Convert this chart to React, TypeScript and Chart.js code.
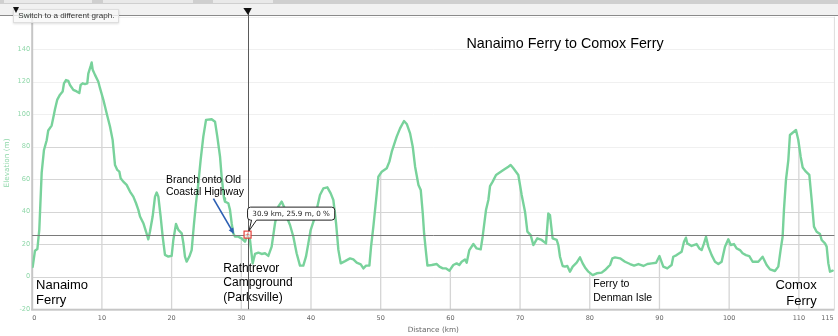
import { useEffect, useRef } from "react";
import { Chart, registerables } from "chart.js";

Chart.register(...registerables);

const distanceKm = [
  0.07, 0.4, 0.74, 1.02, 1.36, 1.69, 2.08, 2.3, 2.79, 3.03, 3.27, 3.6, 3.99, 4.37, 4.56, 4.85, 5.18, 5.42, 5.9, 6.38,
  6.76, 6.95, 7.24, 7.57, 7.9, 8.05, 8.39, 8.53, 8.68, 9.01, 9.49, 9.73, 10.2, 10.68, 11.16, 11.54, 11.88, 12.21, 12.5, 12.69,
  13.07, 13.55, 14.03, 14.51, 14.9, 15.23, 15.47, 15.95, 16.33, 16.66, 16.9, 17.28, 17.62, 17.86, 18.1, 18.43, 18.72, 19.05, 19.53, 20.01,
  20.25, 20.63, 20.97, 21.45, 21.69, 21.92, 22.16, 22.55, 22.88, 23.22, 23.5, 23.84, 24.17, 24.55, 24.94, 25.75, 26.23, 26.56, 26.95, 27.18,
  27.52, 27.66, 28.14, 28.38, 28.62, 28.85, 29.09, 29.57, 29.81, 30.05, 30.53, 30.9, 31.25, 31.63, 31.97, 32.45, 32.92, 33.4, 33.88, 34.36,
  34.84, 35.31, 35.79, 36.13, 36.51, 36.99, 37.47, 37.94, 38.42, 38.9, 39.28, 39.62, 39.95, 40.43, 40.81, 41.29, 41.77, 42.35, 42.83, 43.21,
  43.6, 43.93, 44.27, 44.89, 45.6, 46.08, 46.56, 47.14, 47.52, 47.9, 48.38, 48.62, 48.95, 49.34, 49.67, 50.15, 50.87, 51.25, 51.59, 52.06,
  52.3, 52.78, 53.35, 53.74, 54.22, 54.6, 54.94, 55.42, 55.75, 56.04, 56.23, 56.52, 56.71, 57.33, 58.05, 58.43, 58.91, 59.39, 59.87, 60.42,
  60.9, 61.28, 61.62, 62.1, 62.34, 62.72, 63.3, 63.77, 64.35, 64.63, 65.11, 65.45, 65.69, 66.07, 66.55, 67.6, 68.32, 68.65, 69.04, 69.75,
  70.23, 70.71, 71.05, 71.52, 71.9, 72.47, 73.1, 73.72, 74.05, 74.29, 74.67, 75.25, 75.49, 75.73, 76.11, 76.44, 76.78, 77.16, 77.55, 78.12,
  78.6, 78.98, 79.32, 79.8, 80.42, 81.0, 81.71, 82.19, 82.67, 82.91, 83.24, 83.62, 84.34, 85.06, 85.78, 86.36, 86.98, 87.7, 88.27, 88.9,
  89.52, 90.0, 90.55, 91.12, 91.74, 91.98, 92.46, 93.18, 93.52, 93.8, 93.99, 94.61, 95.33, 95.72, 96.05, 96.39, 96.68, 97.01, 97.49, 97.97,
  98.45, 98.92, 99.4, 99.88, 100.22, 100.69, 101.07, 101.55, 101.93, 102.41, 102.89, 103.37, 104.18, 104.8, 105.38, 105.86, 106.57, 107.05, 107.38, 107.67,
  107.86, 108.15, 108.49, 108.72, 109.11, 109.59, 109.92, 110.26, 110.55, 111.02, 111.5, 111.84, 112.17, 112.55, 113.03, 113.27, 113.75, 113.99, 114.23, 114.47,
  114.85,
];

const elevationM = [
  6, 16, 17, 29, 64, 78, 84, 90, 93, 98, 103, 109, 112, 114, 119, 121, 120.5, 118, 115, 114,
  113, 118, 119, 118.5, 119, 125, 129.7, 131.8, 127.3, 124.2, 120, 116, 109, 100.6, 92.4, 84.2, 68.8, 65.7, 64.7, 60.6,
  58.5, 56.5, 52.4, 49.3, 45.2, 41.1, 37, 32.9, 27.8, 23, 27.8, 37, 49.3, 51.8, 49.3, 37, 24.7, 13.4, 12.4, 12.8,
  22.6, 32.5, 28.8, 26.7, 20.6, 12.4, 9.3, 12.4, 16.4, 32.9, 45.2, 57.5, 71.9, 86.2, 96.5, 96.9, 95.4, 86.2, 73.9, 61.6,
  48.3, 46.2, 45.2, 41.1, 32.9, 26.7, 24.7, 24.7, 24, 23.6, 21.5, 25.9, 22.6, 8.2, 14, 14.8, 14, 14.4, 12.8, 18.5,
  32.9, 43.1, 46.2, 43.1, 36.9, 31.8, 24.6, 14.4, 6.8, 6.8, 12.3, 20.5, 28.7, 34.9, 41, 50.3, 54.3, 55, 51.3, 47.2,
  32.9, 16.5, 8.2, 9.6, 11.3, 10.6, 8.6, 7.6, 5.1, 6.8, 6.8, 18.5, 30.8, 47.2, 61.6, 64.6, 66.7, 70.8, 76.9, 83.1,
  86.2, 91.3, 95.8, 94, 88.2, 80, 67.7, 56.4, 53.3, 38.9, 26.6, 14.3, 6.8, 7.2, 7.8, 6.2, 5.1, 5.1, 3.7, 7.2,
  8.2, 7.2, 9.2, 10.6, 8.6, 16.4, 20.1, 17.4, 16.8, 24.6, 41, 47.2, 55.8, 58.5, 62.6, 65.6, 67.7, 68.8, 66.7, 62.6,
  50.3, 40, 27.7, 25.6, 19.5, 23.6, 22.6, 20.5, 38.9, 37.9, 23.6, 22.6, 19.5, 12.3, 6.6, 6.2, 6.6, 3.1, 6.2, 8.6,
  11.9, 8.2, 5.7, 3.1, 1, 2.1, 2.5, 4.1, 6.2, 7.2, 11.3, 11.9, 11.3, 9.2, 7.8, 6.8, 7.8, 6.6, 7.8, 8.2,
  8.6, 12.7, 6.2, 5.1, 7.2, 12.3, 13.3, 15.4, 21.5, 24, 20.5, 18.9, 20.1, 17.4, 16.4, 20.5, 24.6, 18.5, 13.3, 9.2,
  7.8, 9.2, 18.5, 23, 19.5, 20.1, 17.4, 16.4, 14.4, 13.3, 12.7, 9.2, 9.2, 12.3, 7.2, 4.5, 3.5, 6.2, 16.4, 24.6,
  41, 59.5, 71.8, 87.2, 88.6, 90.3, 84.1, 73.8, 67.2, 64.6, 62.6, 47.2, 30.8, 27.7, 26.3, 22.6, 20.5, 18.5, 8.2, 3.1,
  3.7,
];

const xTickValues = [0, 10, 20, 30, 40, 50, 60, 70, 80, 90, 100, 110, 115];
const yTickValues = [-20, 0, 20, 40, 60, 80, 100, 120, 140, 160];

const cursorKm = 30.9;
const cursorElev = 25.9;
const cursorGrade = 0;

const chartTitle = "Nanaimo Ferry to Comox Ferry";

// text annotations placed in data units (km, m) at their baseline
const annotations = [
  { lines: [chartTitle], km: 76.45, elev: 140.6, align: "center", size: 14.3, lead: 0 },
  { lines: ["Nanaimo", "Ferry"], km: 0.55, elev: -7.6, align: "left", size: 13, lead: 15 },
  { lines: ["Rathtrevor", "Campground", "(Parksville)"], km: 27.42, elev: 2.9, align: "left", size: 12, lead: 14.5 },
  { lines: ["Branch onto Old", "Coastal Highway"], km: 19.2, elev: 57.5, align: "left", size: 10.4, lead: 11.7 },
  { lines: ["Ferry to", "Denman Isle"], km: 80.5, elev: -6.5, align: "left", size: 10.5, lead: 13.4 },
  { lines: ["Comox", "Ferry"], km: 112.55, elev: -7.8, align: "right", size: 13, lead: 15.5 },
];

const arrow = { fromKm: 26.0, fromElev: 48.1, toKm: 28.95, toElev: 26.3 };

const LINE_COLOR = "#78d29b";
const Y_COLOR = "#8fd7a9";

const chromePlugin = {
  id: "chrome",
  beforeDraw(chart: any) {
    const { ctx, width } = chart;
    ctx.save();
    ctx.fillStyle = "#ffffff";
    ctx.fillRect(0, 0, width, chart.height);
    // toolbar strip
    ctx.fillStyle = "#cfcfcf";
    ctx.fillRect(0, 0, width, 4);
    ctx.fillStyle = "#e9e9e9";
    ctx.fillRect(4, 0, 88, 3);
    ctx.fillRect(103, 0, 90, 3);
    ctx.fillRect(213, 0, 60, 3);
    ctx.fillStyle = "#f1f1f1";
    ctx.fillRect(0, 4, width, 11);
    ctx.fillStyle = "#8a8a8a";
    ctx.fillRect(0, 15, width, 1);
    ctx.restore();
  },
};

const gridPlugin = {
  id: "profileGrid",
  beforeDatasetsDraw(chart: any) {
    const { ctx, chartArea: a, scales } = chart;
    const x = scales.x;
    const y = scales.y;
    ctx.save();
    ctx.lineWidth = 1;
    ctx.strokeStyle = "#f0f0f0";
    for (const v of yTickValues) {
      const py = Math.round(y.getPixelForValue(v)) + 0.5;
      ctx.beginPath();
      ctx.moveTo(a.left, py);
      ctx.lineTo(a.right, py);
      ctx.stroke();
    }
    const pts = chart.getDatasetMeta(0).data;
    ctx.beginPath();
    ctx.moveTo(a.left, a.bottom);
    ctx.lineTo(a.left, pts[0].y);
    for (const p of pts) ctx.lineTo(p.x, p.y);
    ctx.lineTo(pts[pts.length - 1].x, a.bottom);
    ctx.closePath();
    ctx.clip();
    ctx.strokeStyle = "#d5d5d5";
    for (const v of yTickValues) {
      const py = Math.round(y.getPixelForValue(v)) + 0.5;
      ctx.beginPath();
      ctx.moveTo(a.left, py);
      ctx.lineTo(a.right, py);
      ctx.stroke();
    }
    ctx.lineWidth = 1.3;
    for (const v of xTickValues) {
      if (v <= 0 || v >= 115) continue;
      const px = x.getPixelForValue(v);
      ctx.beginPath();
      ctx.moveTo(px, a.top);
      ctx.lineTo(px, a.bottom);
      ctx.stroke();
    }
    ctx.restore();

    // borders
    ctx.save();
    ctx.fillStyle = "#c6c6c6";
    ctx.fillRect(a.left - 1, a.top, 2, a.bottom - a.top + 1);
    ctx.fillRect(a.left - 1, a.bottom - 0.5, a.right - a.left + 1, 2);
    ctx.fillStyle = "#dddddd";
    ctx.fillRect(a.right - 0.5, a.top, 1, a.bottom - a.top);
    ctx.restore();
  },
};

const overlayPlugin = {
  id: "overlay",
  afterDatasetsDraw(chart: any) {
    const { ctx, chartArea: a, scales } = chart;
    const x = scales.x;
    const y = scales.y;

    // annotations
    ctx.save();
    ctx.fillStyle = "#000";
    ctx.textBaseline = "alphabetic";
    for (const an of annotations) {
      ctx.font = `${an.size}px "Liberation Sans", Arial, sans-serif`;
      ctx.textAlign = an.align as CanvasTextAlign;
      const px = x.getPixelForValue(an.km);
      const py = y.getPixelForValue(an.elev);
      an.lines.forEach((ln, i) => ctx.fillText(ln, px, py + i * an.lead));
    }
    ctx.restore();

    // arrow
    ctx.save();
    const x1 = x.getPixelForValue(arrow.fromKm);
    const y1 = y.getPixelForValue(arrow.fromElev);
    const x2 = x.getPixelForValue(arrow.toKm);
    const y2 = y.getPixelForValue(arrow.toElev);
    const ang = Math.atan2(y2 - y1, x2 - x1);
    const head = 6.5;
    ctx.strokeStyle = "#2c5fb3";
    ctx.fillStyle = "#2c5fb3";
    ctx.lineWidth = 1.6;
    ctx.beginPath();
    ctx.moveTo(x1, y1);
    ctx.lineTo(x2 - Math.cos(ang) * head * 0.8, y2 - Math.sin(ang) * head * 0.8);
    ctx.stroke();
    ctx.beginPath();
    ctx.moveTo(x2, y2);
    ctx.lineTo(x2 - head * Math.cos(ang - 0.42), y2 - head * Math.sin(ang - 0.42));
    ctx.lineTo(x2 - head * Math.cos(ang + 0.42), y2 - head * Math.sin(ang + 0.42));
    ctx.closePath();
    ctx.fill();
    ctx.restore();

    // cursor
    const cx = x.getPixelForValue(cursorKm);
    const cy = y.getPixelForValue(cursorElev);
    ctx.save();
    ctx.lineWidth = 1;
    ctx.strokeStyle = "#5a5a5a";
    ctx.beginPath();
    ctx.moveTo(Math.round(cx) + 0.5, 12);
    ctx.lineTo(Math.round(cx) + 0.5, a.bottom);
    ctx.stroke();
    ctx.strokeStyle = "#7a7a7a";
    ctx.beginPath();
    ctx.moveTo(a.left, Math.round(cy) + 0.5);
    ctx.lineTo(a.right, Math.round(cy) + 0.5);
    ctx.stroke();
    // top triangle handle
    ctx.fillStyle = "#111";
    ctx.beginPath();
    ctx.moveTo(cx - 4.2, 8);
    ctx.lineTo(cx + 4.2, 8);
    ctx.lineTo(cx + 0.5, 15);
    ctx.closePath();
    ctx.fill();
    // marker
    ctx.fillStyle = "rgba(255,255,255,0.7)";
    ctx.fillRect(cx - 3.5, cy - 3.5, 7, 7);
    ctx.strokeStyle = "#e5403a";
    ctx.lineWidth = 1.2;
    ctx.strokeRect(cx - 3.5, cy - 3.5, 7, 7);
    ctx.lineWidth = 0.8;
    ctx.strokeStyle = "rgba(229,64,58,0.6)";
    ctx.beginPath();
    ctx.moveTo(cx - 2, cy);
    ctx.lineTo(cx + 2, cy);
    ctx.moveTo(cx, cy - 2);
    ctx.lineTo(cx, cy + 2);
    ctx.stroke();

    // callout
    const text = `${cursorKm} km, ${cursorElev} m, ${cursorGrade} %`;
    ctx.font = '7.2px "DejaVu Sans", sans-serif';
    const tw = ctx.measureText(text).width;
    const bx = cx;
    const bw = tw + 9.6;
    const bt = cy - 27.5;
    const bh = 13;
    const bb = bt + bh;
    const r = 3;
    ctx.beginPath();
    ctx.moveTo(bx + r, bt);
    ctx.lineTo(bx + bw - r, bt);
    ctx.arcTo(bx + bw, bt, bx + bw, bt + r, r);
    ctx.lineTo(bx + bw, bb - r);
    ctx.arcTo(bx + bw, bb, bx + bw - r, bb, r);
    ctx.lineTo(bx + 9, bb);
    ctx.lineTo(bx + 1.5, cy - 3.8);
    ctx.lineTo(bx + 4, bb);
    ctx.lineTo(bx + r, bb);
    ctx.arcTo(bx, bb, bx, bb - r, r);
    ctx.lineTo(bx, bt + r);
    ctx.arcTo(bx, bt, bx + r, bt, r);
    ctx.closePath();
    ctx.fillStyle = "#ffffff";
    ctx.fill();
    ctx.strokeStyle = "#222";
    ctx.lineWidth = 1;
    ctx.stroke();
    ctx.fillStyle = "#222";
    ctx.textAlign = "left";
    ctx.textBaseline = "middle";
    ctx.fillText(text, bx + 4.8, bt + bh / 2 + 0.3);
    ctx.restore();
  },
};

export default function App() {
  const ref = useRef<HTMLCanvasElement>(null);

  useEffect(() => {
    const canvas = ref.current;
    if (!canvas) return;
    const chart = new Chart(canvas, {
      type: "line",
      data: {
        datasets: [
          {
            label: "Elevation",
            data: distanceKm.map((d, i) => ({ x: d, y: elevationM[i] })),
            borderColor: LINE_COLOR,
            borderWidth: 2.4,
            pointRadius: 0,
            tension: 0,
            fill: false,
            borderJoinStyle: "round",
            borderCapStyle: "round",
          },
        ],
      },
      options: {
        responsive: false,
        animation: false,
        devicePixelRatio: 1,
        layout: { padding: { left: 0, right: 3.6, top: 16.7, bottom: 0 } },
        plugins: { legend: { display: false }, tooltip: { enabled: false } },
        scales: {
          x: {
            type: "linear",
            min: 0,
            max: 115.1,
            afterBuildTicks: (s: any) => {
              s.ticks = xTickValues.map((v) => ({ value: v }));
            },
            afterFit: (s: any) => {
              s.height = 26.8;
              s.paddingLeft = 0;
              s.paddingRight = 0;
            },
            ticks: {
              autoSkip: false,
              maxRotation: 0,
              padding: 5,
              align: "inner",
              color: "#666",
              font: { family: '"DejaVu Sans", sans-serif', size: 6.5 },
              callback: (v: any) => String(v),
            },
            grid: { display: false, drawTicks: false },
            border: { display: false },
            title: {
              display: true,
              text: "Distance (km)",
              color: "#666",
              font: { family: '"DejaVu Sans", sans-serif', size: 7.3 },
              padding: { top: 0, bottom: 2 },
            },
          },
          y: {
            type: "linear",
            min: -20,
            max: 160,
            afterBuildTicks: (s: any) => {
              s.ticks = yTickValues.map((v) => ({ value: v }));
            },
            afterFit: (s: any) => {
              s.width = 32.2;
              s.paddingTop = 0;
              s.paddingBottom = 0;
            },
            ticks: {
              padding: 2,
              color: Y_COLOR,
              font: { family: '"DejaVu Sans", sans-serif', size: 6.6 },
              callback: (v: any) => String(v),
            },
            grid: { display: false, drawTicks: false },
            border: { display: false },
            title: {
              display: true,
              text: "Elevation (m)",
              color: Y_COLOR,
              font: { family: '"DejaVu Sans", sans-serif', size: 7.3 },
              padding: { top: 3, bottom: 0 },
            },
          },
        },
      },
      plugins: [chromePlugin, gridPlugin, overlayPlugin],
    } as any);
    return () => chart.destroy();
  }, []);

  return (
    <div style={{ position: "absolute", left: 0, top: 0, width: 838, height: 336, overflow: "hidden" }}>
      <canvas ref={ref} width={838} height={336} style={{ display: "block", width: 838, height: 336 }} />
      <div
        style={{
          position: "absolute",
          left: 13,
          top: 9,
          width: 100,
          height: 12,
          lineHeight: "12px",
          paddingLeft: 4.3,
          fontFamily: '"Liberation Sans", Arial, sans-serif',
          fontSize: 8.1,
          color: "#333",
          background: "rgba(247,247,247,0.8)",
          border: "1px solid #dedede",
          boxShadow: "0 1px 2px rgba(0,0,0,0.12)",
          whiteSpace: "nowrap",
          boxSizing: "content-box",
        }}
      >
        Switch to a different graph.
      </div>
      <div
        style={{
          position: "absolute",
          left: 12.5,
          top: 7.3,
          width: 0,
          height: 0,
          borderLeft: "3.6px solid transparent",
          borderRight: "3.6px solid transparent",
          borderTop: "6.5px solid #111",
        }}
      />
    </div>
  );
}
